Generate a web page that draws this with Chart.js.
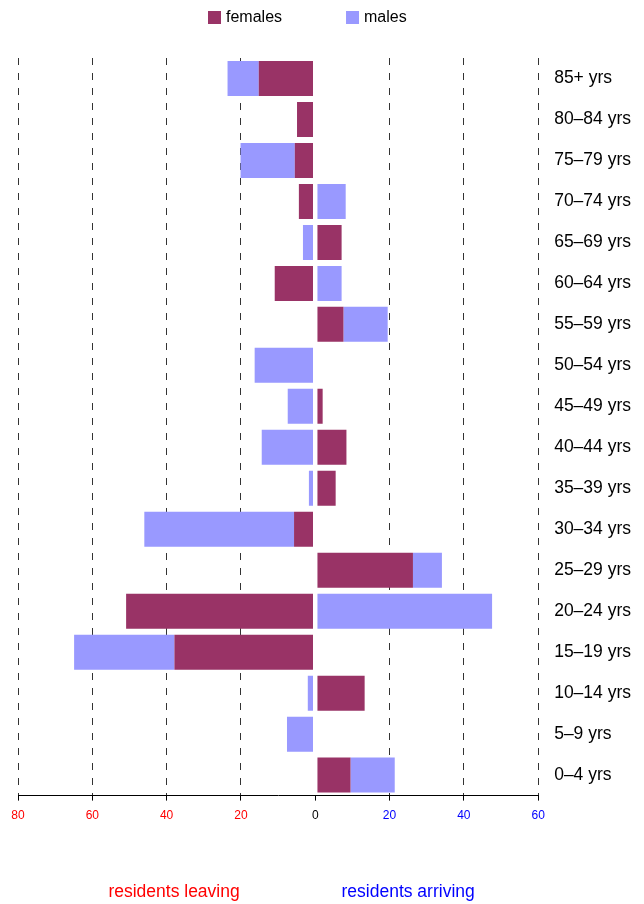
<!DOCTYPE html>
<html lang="en">
<head>
    <meta charset="UTF-8">
    <title>Residents leaving and arriving by age</title>
    <script src="https://cdn.jsdelivr.net/npm/chart.js"></script>
    <style>
        body {
            margin: 0;
            background-color: #fff;
        }
    </style>
</head>
<body>
    <canvas id="migration-chart" width="644" height="904"></canvas>

    <script>
        // age groups, top to bottom
        var ageGroups = ['85+ yrs', '80–84 yrs', '75–79 yrs', '70–74 yrs', '65–69 yrs', '60–64 yrs',
            '55–59 yrs', '50–54 yrs', '45–49 yrs', '40–44 yrs', '35–39 yrs', '30–34 yrs',
            '25–29 yrs', '20–24 yrs', '15–19 yrs', '10–14 yrs', '5–9 yrs', '0–4 yrs'];

        // net residents by sex: negative = leaving, positive = arriving
        var females = [-14.6, -4.3, -4.9, -3.8, 6.5, -10.3, 7.0, 0, 1.4, 7.8, 4.9, -5.1,
            25.7, -50.3, -37.3, 12.7, 0, 8.9];
        var males = [-8.4, 0, -14.6, 7.6, -2.7, 6.5, 11.9, -15.7, -6.8, -13.8, -1.1, -40.3,
            7.8, 47.0, -27.0, -1.4, -7.0, 11.9];

        var xTicks = [-80, -60, -40, -20, 0, 20, 40, 60];
        var sideTitles = ['residents leaving', 'residents arriving'];

        var FONT = "'Liberation Sans', Arial, sans-serif";
        var gap = 0.6; // small white gap either side of zero

        // legend drawn by hand so it sits where the original has it
        var topLegend = {
            id: 'topLegend',
            afterDraw: function (chart) {
                var ctx = chart.ctx;
                ctx.save();
                ctx.font = '16px ' + FONT;
                ctx.textBaseline = 'middle';
                var x = 208;
                chart.data.datasets.forEach(function (ds) {
                    if (!ds.label) return;
                    ctx.fillStyle = ds.backgroundColor;
                    ctx.fillRect(x, 11, 13, 13);
                    ctx.fillStyle = '#000';
                    ctx.fillText(ds.label, x + 18, 18);
                    x += 18 + ctx.measureText(ds.label).width + 64;
                });
                ctx.restore();
            }
        };

        // "residents leaving" / "residents arriving" under the axis
        var sideLabels = {
            id: 'sideLabels',
            afterDraw: function (chart) {
                var ctx = chart.ctx;
                var xs = chart.scales.x;
                ctx.save();
                ctx.font = '17.5px ' + FONT;
                ctx.textAlign = 'center';
                ctx.textBaseline = 'middle';
                ctx.fillStyle = '#ff0000';
                ctx.fillText(sideTitles[0], xs.getPixelForValue(-38), 892);
                ctx.fillStyle = '#0000ff';
                ctx.fillText(sideTitles[1], xs.getPixelForValue(25), 892);
                ctx.restore();
            }
        };

        var ctx = document.getElementById('migration-chart').getContext('2d');
        var chart = new Chart(ctx, {
            type: 'bar',
            data: {
                labels: ageGroups,
                datasets: [
                    { data: ageGroups.map(function () { return -gap; }), backgroundColor: 'rgba(0,0,0,0)', stack: 's' },
                    { data: ageGroups.map(function () { return gap; }), backgroundColor: 'rgba(0,0,0,0)', stack: 's' },
                    { label: 'females', data: females, backgroundColor: '#993366', stack: 's' },
                    { label: 'males', data: males, backgroundColor: '#9999ff', stack: 's' }
                ]
            },
            options: {
                indexAxis: 'y',
                responsive: false,
                animation: false,
                layout: {
                    padding: { top: 58, left: 18, right: -3, bottom: 73 }
                },
                datasets: {
                    bar: {
                        categoryPercentage: 1,
                        barPercentage: 0.854,
                        borderWidth: 0
                    }
                },
                plugins: {
                    legend: { display: false },
                    tooltip: { enabled: false }
                },
                scales: {
                    x: {
                        type: 'linear',
                        stacked: true,
                        min: -80,
                        max: 60,
                        afterBuildTicks: function (axis) {
                            axis.ticks = xTicks.map(function (v) { return { value: v }; });
                        },
                        ticks: {
                            font: { family: FONT, size: 12 },
                            padding: 8,
                            maxRotation: 0,
                            color: function (c) {
                                var v = c.tick.value;
                                return v < 0 ? '#ff0000' : (v > 0 ? '#0000ff' : '#000000');
                            },
                            callback: function (v) { return Math.abs(v); }
                        },
                        grid: {
                            color: function (c) {
                                return c.tick && c.tick.value === 0 ? 'rgba(0,0,0,0)' : '#333333';
                            },
                            lineWidth: 1,
                            tickBorderDash: [],
                            tickColor: '#000000',
                            tickLength: 5
                        },
                        border: { display: true, color: '#000000', width: 1, dash: [7, 8] }
                    },
                    y: {
                        type: 'category',
                        position: 'right',
                        stacked: true,
                        grid: { display: false, drawTicks: false },
                        border: { display: false },
                        ticks: {
                            font: { family: FONT, size: 17.5 },
                            color: '#000000',
                            padding: 16
                        }
                    }
                }
            },
            plugins: [topLegend, sideLabels]
        });
    </script>
</body>
</html>
